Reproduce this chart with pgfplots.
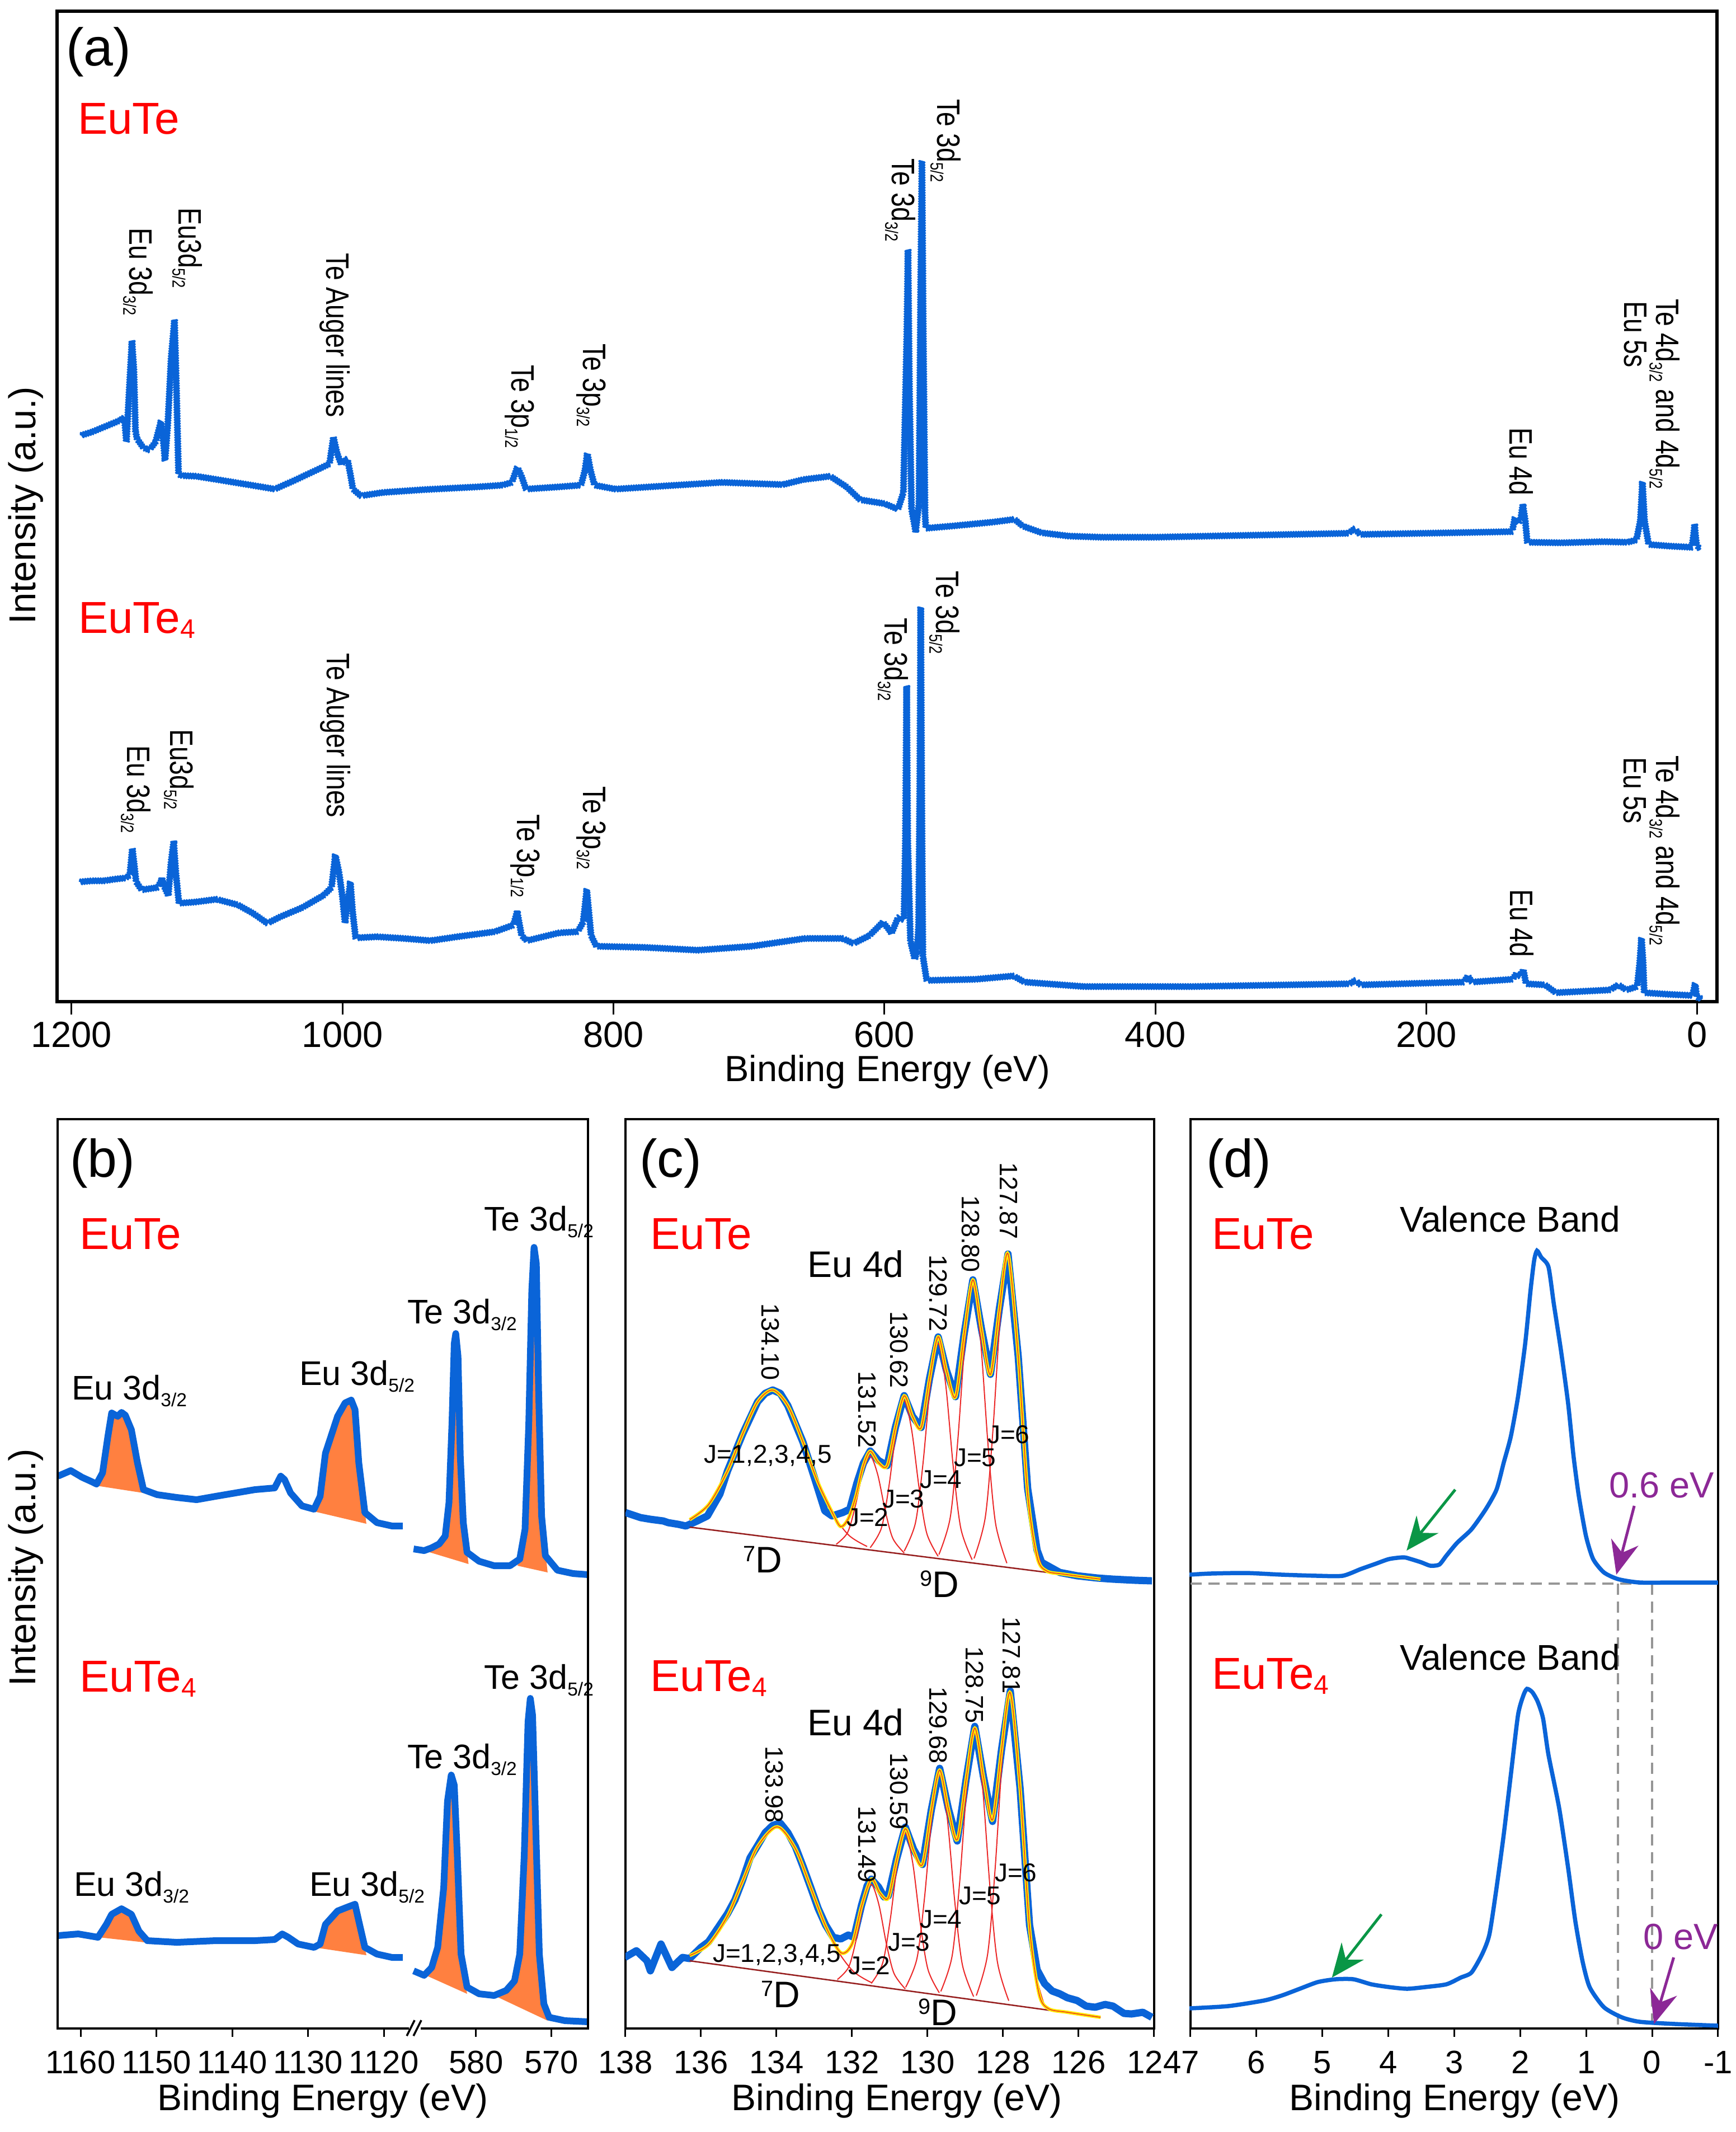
\documentclass[border=0pt]{standalone}
\usepackage{pgfplots}
\pgfplotsset{compat=1.18}
\usepackage{graphicx}
\usepackage{fontspec}
\setmainfont{Liberation Sans}
\newfontfamily\cnd[FakeStretch=0.8]{Liberation Sans}
\usetikzlibrary{arrows.meta,decorations.pathmorphing}
\newcommand\fs[1]{\fontsize{#1}{#1}\selectfont}
\newcommand\sub[1]{\raisebox{-0.2em}{\scalebox{0.55}{#1}}}
\newcommand\subf[1]{\raisebox{-0.12em}{\scalebox{0.6}{#1}}}
\newcommand\supr[1]{\raisebox{0.3em}{\scalebox{0.6}{#1}}}
\definecolor{cb}{RGB}{10,100,216}
\definecolor{cor}{RGB}{255,128,64}
\definecolor{cyel}{RGB}{255,235,0}
\definecolor{cred}{RGB}{235,40,40}
\definecolor{cbase}{RGB}{150,30,30}
\definecolor{cpur}{RGB}{140,40,150}
\definecolor{cgrn}{RGB}{10,150,70}
\definecolor{cgray}{RGB}{150,150,150}
\pgfplotsset{
  panel/.style={scale only axis, anchor=north west, height=162.5pt,
    ymin=-3625, ymax=-2000, x dir=reverse, ytick=\empty,
    xtick pos=bottom, tick align=outside, major tick length=1.5pt,
    every tick/.style={black,line width=0.3pt},
    axis line style={line width=0.45pt},
    xticklabel style={font=\fs{5.8}, anchor=base, yshift=-6.5pt}},
  noisy/.style={cb, line width=0.4pt, line join=round, decorate,
    decoration={zigzag, segment length=0.45pt, amplitude=0.45pt}},
}
\begin{document}
\begin{tikzpicture}
\path[use as bounding box] (0pt,0pt) rectangle (310.3pt,-381pt);

% ================= (a) =================
\begin{axis}[at={(10.2pt,-2pt)}, anchor=north west, scale only axis,
  width=296.7pt, height=177pt,
  xmin=-14.5, xmax=1210.7, x dir=reverse, ymin=-1790, ymax=-20,
  ytick=\empty, xtick={0,200,400,600,800,1000,1200},
  xticklabels={0,200,400,600,800,1000,1200},
  xtick pos=bottom, tick align=outside, major tick length=2.3pt,
  every tick/.style={black,line width=0.3pt},
  axis line style={line width=0.55pt},
  xticklabel style={font=\fs{6.5}, anchor=base, yshift=-5.8pt}]
\addplot[noisy] coordinates {(1193,-778)(1185,-772)(1175,-762)(1165,-752)(1161,-746)(1159.5,-790)(1157.5,-700)(1155.4,-609)(1154,-660)(1152.8,-770)(1151.7,-784)(1147,-800)(1142.6,-804)(1138,-790)(1134,-753)(1132,-795)(1131,-823)(1129,-760)(1126.5,-640)(1124,-571)(1122.5,-700)(1121,-848)(1118,-850)(1108,-851)(1090,-858)(1067.4,-867)(1050,-874)(1035,-858)(1021,-842)(1009.6,-829)(1006.7,-781)(1004,-810)(1001,-829)(996.4,-820)(994,-850)(992.3,-874)(986.5,-886)(970,-880)(940,-875)(900,-870)(882,-867)(875,-862)(871,-835)(868,-850)(864.6,-874)(840,-870)(824,-867)(821,-840)(819.3,-810)(817,-840)(814,-867)(798.6,-874)(760,-868)(720,-862)(675,-866)(660,-857)(640,-851)(628,-870)(618,-893)(600,-900)(590,-910)(586,-880)(583.5,-600)(582.6,-446)(581.5,-700)(580,-910)(577.9,-937)(577,-950)(574.5,-900)(573.2,-500)(572.3,-287)(571.3,-600)(570,-920)(569.4,-944)(550,-940)(520,-933)(504,-928)(498,-940)(484,-952)(464,-958)(440,-960)(400,-960)(300,-955)(257.7,-953)(253,-945)(249,-955)(180,-952)(136.7,-950)(134.6,-925)(132.5,-935)(130.5,-930)(128.8,-902)(127,-930)(125.5,-969)(100,-970)(70,-968)(51.6,-969)(45,-965)(42,-930)(40.5,-861)(39,-930)(35.9,-973)(20,-976)(4,-978)(2.5,-950)(2,-937)(1.2,-960)(0.4,-975)(-2.5,-982)};
\addplot[noisy] coordinates {(1193.8,-1576)(1185,-1574)(1176,-1574)(1168,-1571)(1160.2,-1569)(1157,-1564)(1155.1,-1516)(1153.5,-1550)(1152.3,-1576)(1148.3,-1590)(1142,-1588)(1136.5,-1586)(1134,-1575)(1133.3,-1569)(1131.5,-1585)(1128.6,-1600)(1126.5,-1540)(1124.6,-1504)(1123,-1560)(1120.7,-1614)(1108.8,-1612)(1093,-1607)(1077.2,-1617)(1065.4,-1633)(1055.5,-1650)(1045.6,-1638)(1029.8,-1622)(1014,-1600)(1008.1,-1586)(1005.3,-1528)(1002.5,-1560)(1000.2,-1600)(998.2,-1648)(996.5,-1620)(994.2,-1576)(992.5,-1630)(990.3,-1676)(974.5,-1674)(954.8,-1677)(935,-1681)(915.3,-1674)(887.6,-1665)(873.8,-1653)(871.1,-1629)(867.8,-1672)(863.9,-1681)(840.2,-1667)(826.4,-1665)(822.4,-1648)(819.7,-1590)(816.5,-1672)(812.6,-1691)(777,-1693)(737.5,-1698)(698,-1691)(658.5,-1677)(630.8,-1677)(622.9,-1686)(611.1,-1672)(601.2,-1648)(597,-1660)(594.8,-1668)(590,-1640)(588.8,-1638)(585.6,-1644)(584.5,-1500)(583.6,-1226)(582.8,-1500)(580.8,-1682)(577.6,-1714)(576,-1700)(574.8,-1655)(573.9,-1400)(573.2,-1085)(572.5,-1400)(571.6,-1709)(568.8,-1752)(532.7,-1750)(504.7,-1744)(496.7,-1755)(452.7,-1763)(372.6,-1763)(256.6,-1758)(252.5,-1752)(248.5,-1760)(172.5,-1755)(169.3,-1744)(166.5,-1755)(136.4,-1750)(133.3,-1739)(130.5,-1745)(128.4,-1733)(126.4,-1758)(112.4,-1760)(104.4,-1774)(64.4,-1769)(58.4,-1760)(52.4,-1769)(44.4,-1763)(42.5,-1720)(41.2,-1676)(40,-1720)(39.2,-1774)(20.4,-1777)(3.6,-1779)(1.6,-1758)(0.4,-1782)(-3.6,-1785)};
\end{axis}

% ================= (b) =================
\begin{axis}[panel, at={(10.3pt,-200pt)}, width=63.4pt, xmin=1116.24, xmax=1163.03,
  xtick={1120,1130,1140,1150,1160}, xticklabels={1120,1130,1140,1150,1160},
  axis line style={draw=none}]
\addplot[fill=cor, draw=none] coordinates {(1157.9,-2655)(1157.1,-2632)(1156.4,-2567)(1155.9,-2525)(1155.1,-2531)(1154.6,-2524)(1154.1,-2529)(1153.3,-2555)(1152.5,-2614)(1151.7,-2668)};
\addplot[fill=cor, draw=none] coordinates {(1129.5,-2700)(1128.4,-2674)(1127.7,-2597)(1126.1,-2531)(1125.1,-2507)(1124.3,-2502)(1123.8,-2519)(1123.3,-2614)(1122.3,-2723)};
\addplot[fill=cor, draw=none] coordinates {(1157.6,-3462)(1156.6,-3439)(1155.9,-3421)(1154.6,-3411)(1153.3,-3421)(1152.3,-3451)(1151.6,-3471)};
\addplot[fill=cor, draw=none] coordinates {(1129.2,-3480)(1128.4,-3474)(1127.7,-3439)(1126.1,-3415)(1124.6,-3407)(1123.8,-3403)(1123.3,-3433)(1122.3,-3494)};
\addplot[cb, line width=1.2pt, line join=round] coordinates {(1163.0,-2638)(1161.3,-2628)(1159.8,-2640)(1158.5,-2648)(1157.9,-2652)(1157.1,-2632)(1156.4,-2567)(1155.9,-2525)(1155.1,-2531)(1154.6,-2524)(1154.1,-2529)(1153.3,-2555)(1152.5,-2614)(1151.7,-2662)(1149.9,-2671)(1147.3,-2676)(1144.7,-2680)(1142.2,-2674)(1139.6,-2668)(1137.0,-2662)(1134.4,-2659)(1133.6,-2638)(1133.1,-2644)(1132.3,-2668)(1130.8,-2691)(1129.2,-2697)(1128.4,-2674)(1127.7,-2597)(1126.1,-2531)(1125.1,-2507)(1124.3,-2502)(1123.8,-2519)(1123.3,-2614)(1122.5,-2703)(1120.9,-2721)(1118.9,-2727)(1117.5,-2727)};
\addplot[cb, line width=1.2pt, line join=round] coordinates {(1163.0,-3459)(1160.3,-3456)(1157.7,-3462)(1156.6,-3439)(1155.9,-3421)(1154.6,-3411)(1153.3,-3421)(1152.3,-3451)(1151.2,-3468)(1147.3,-3471)(1142.2,-3468)(1137.0,-3468)(1134.4,-3466)(1133.4,-3456)(1132.6,-3462)(1131.3,-3474)(1129.2,-3480)(1128.4,-3474)(1127.7,-3439)(1126.1,-3415)(1124.6,-3407)(1123.8,-3403)(1123.3,-3433)(1122.5,-3480)(1120.9,-3492)(1118.9,-3498)(1117.5,-3498)};
\end{axis}
\begin{axis}[panel, at={(73.7pt,-200pt)}, width=31.4pt, xmin=565.14, xmax=588.47,
  xtick={570,580}, xticklabels={570,580}, axis line style={draw=none}]
\addplot[fill=cor, draw=none] coordinates {(586.9,-2771)(585.9,-2766)(584.9,-2759)(584.1,-2745)(583.6,-2685)(583.2,-2543)(582.9,-2401)(582.7,-2383)(582.4,-2424)(582.1,-2602)(581.7,-2721)(581.0,-2795)};
\addplot[fill=cor, draw=none] coordinates {(574.5,-2798)(574.2,-2786)(573.5,-2733)(573.0,-2543)(572.6,-2306)(572.3,-2229)(572.0,-2258)(571.7,-2484)(571.3,-2709)(570.5,-2810)};
\addplot[fill=cor, draw=none] coordinates {(587.0,-3528)(585.9,-3516)(585.1,-3480)(584.3,-3373)(583.8,-3219)(583.3,-3172)(582.9,-3190)(582.5,-3314)(582.0,-3492)(581.2,-3563)};
\addplot[fill=cor, draw=none] coordinates {(577.6,-3566)(576.0,-3557)(574.9,-3540)(574.2,-3492)(573.6,-3314)(573.1,-3077)(572.8,-3035)(572.5,-3065)(572.1,-3255)(571.6,-3492)(570.5,-3611)};
\addplot[cb, line width=1.2pt, line join=round] coordinates {(588.3,-2768)(586.9,-2771)(585.9,-2766)(584.9,-2759)(584.1,-2745)(583.6,-2685)(583.2,-2543)(582.9,-2401)(582.7,-2383)(582.4,-2424)(582.1,-2602)(581.7,-2721)(581.2,-2774)(579.6,-2790)(577.6,-2798)(575.5,-2798)(574.2,-2786)(573.5,-2733)(573.0,-2543)(572.6,-2306)(572.3,-2229)(572.0,-2258)(571.7,-2484)(571.3,-2709)(570.8,-2780)(569.2,-2806)(567.1,-2812)(565.1,-2814)};
\addplot[cb, line width=1.2pt, line join=round] coordinates {(588.3,-3522)(586.9,-3530)(585.9,-3516)(585.1,-3480)(584.3,-3373)(583.8,-3219)(583.3,-3172)(582.9,-3190)(582.5,-3314)(582.0,-3492)(581.2,-3551)(579.6,-3563)(577.6,-3566)(576.0,-3557)(574.9,-3540)(574.2,-3492)(573.6,-3314)(573.1,-3077)(572.8,-3035)(572.5,-3065)(572.1,-3255)(571.6,-3492)(571.0,-3581)(570.3,-3605)(568.2,-3611)(565.1,-3613)};
\end{axis}
\begin{axis}[at={(10.3pt,-200pt)}, anchor=north west, scale only axis, width=94.8pt, height=162.5pt,
  xmin=0, xmax=1, ymin=0, ymax=1, xtick=\empty, ytick=\empty, axis line style={line width=0.45pt}]
\addplot[draw=none] coordinates {(0.5,0.5)};
\end{axis}

% ================= (c) =================
\begin{axis}[panel, at={(111.8pt,-200pt)}, width=94.5pt, xmin=124, xmax=138,
  xtick={124,126,128,130,132,134,136,138}, xticklabels={124,126,128,130,132,134,136,138}]
\addplot[cb, line width=1.3pt, line join=round] coordinates {(138.0,-2703)(137.6,-2712)(137.34,-2715)(137.0,-2718)(136.87,-2721)(136.6,-2724)(136.4,-2727)(136.1,-2718)(135.83,-2709)(135.5,-2670)(135.3,-2629)(134.9,-2563)(134.5,-2505)(134.3,-2490)(134.1,-2484)(133.9,-2490)(133.7,-2512)(133.3,-2577)(133.0,-2640)(132.72,-2700)(132.53,-2709)(132.25,-2703)(132.06,-2697)(131.87,-2650)(131.7,-2615)(131.52,-2593)(131.3,-2610)(131.07,-2619)(130.85,-2550)(130.62,-2494)(130.4,-2531)(130.17,-2551)(129.95,-2464)(129.72,-2389)(129.5,-2449)(129.26,-2496)(129.03,-2383)(128.8,-2287)(128.57,-2376)(128.335,-2456)(128.1,-2339)(127.87,-2241)(127.6,-2424)(127.35,-2660)(127.1,-2770)(126.98,-2792)(126.5,-2810)(126.04,-2816)(125.5,-2820)(125.09,-2822)(124.5,-2824)(124.06,-2825)};
\addplot[cred, line width=0.2pt, smooth] coordinates {(136.3,-2715.7)(136.1,-2708.4)(135.6,-2669.3)(135.1,-2597)(134.6,-2517.3)(134.1,-2483.8)(133.6,-2525.9)(133.1,-2614.1)(132.6,-2694.9)(132.1,-2742.6)(131.6,-2763.6)};
\addplot[cred, line width=0.2pt, smooth] coordinates {(132.42,-2759.7)(132.12,-2738.9)(131.92,-2693.3)(131.72,-2631.7)(131.52,-2601.9)(131.32,-2635.2)(131.12,-2700.2)(130.92,-2749.2)(130.62,-2775.1)};
\addplot[cred, line width=0.2pt, smooth] coordinates {(131.52,-2765.8)(131.22,-2730.1)(131.02,-2654.5)(130.82,-2552.5)(130.62,-2502.6)(130.42,-2556)(130.22,-2661.4)(130.02,-2740.4)(129.72,-2781.2)};
\addplot[cred, line width=0.2pt, smooth] coordinates {(130.62,-2771.9)(130.32,-2721)(130.12,-2614.4)(129.92,-2471)(129.72,-2400.3)(129.52,-2474.4)(129.32,-2621.2)(129.12,-2731.2)(128.82,-2787.3)};
\addplot[cred, line width=0.2pt, smooth] coordinates {(129.7,-2778.1)(129.4,-2711.9)(129.2,-2574.4)(129,-2389.5)(128.8,-2298.1)(128.6,-2392.9)(128.4,-2581.2)(128.2,-2722.2)(127.9,-2793.5)};
\addplot[cred, line width=0.2pt, smooth] coordinates {(128.77,-2785.1)(128.47,-2710.6)(128.27,-2556.3)(128.07,-2348.7)(127.87,-2246.1)(127.67,-2352.1)(127.47,-2563.1)(127.27,-2720.9)(126.97,-2800.6)};
\addplot[cbase, line width=0.25pt] coordinates {(136.3,-2729)(125.42,-2822)};
\addplot[cyel, line width=0.6pt, smooth] coordinates {(136.3,-2715.7)(135.8,-2688.9)(135.3,-2629)(134.9,-2563)(134.5,-2505)(134.1,-2484)(133.7,-2512)(133.3,-2576.7)(132.9,-2649.5)(132.5,-2706)(132.3,-2728)(132.1,-2714)(131.9,-2674)(131.7,-2618.8)(131.52,-2593.4)(131.3,-2614)(131.07,-2619.2)(130.85,-2550.5)(130.62,-2494.3)(130.4,-2531)(130.17,-2551.3)(129.95,-2464.4)(129.72,-2388.8)(129.5,-2449.4)(129.26,-2496.5)(129.03,-2383.1)(128.8,-2287.2)(128.57,-2376.1)(128.335,-2456.2)(128.1,-2339.3)(127.87,-2240.6)(127.6,-2423.6)(127.35,-2669.6)(127.1,-2782.3)(126.85,-2807.3)(126.4,-2813)(125.42,-2822)};
\addplot[cred!80!orange, line width=0.15pt, smooth] coordinates {(136.3,-2715.7)(135.8,-2688.9)(135.3,-2629)(134.9,-2563)(134.5,-2505)(134.1,-2484)(133.7,-2512)(133.3,-2576.7)(132.9,-2649.5)(132.5,-2706)(132.3,-2728)(132.1,-2714)(131.9,-2674)(131.7,-2618.8)(131.52,-2593.4)(131.3,-2614)(131.07,-2619.2)(130.85,-2550.5)(130.62,-2494.3)(130.4,-2531)(130.17,-2551.3)(129.95,-2464.4)(129.72,-2388.8)(129.5,-2449.4)(129.26,-2496.5)(129.03,-2383.1)(128.8,-2287.2)(128.57,-2376.1)(128.335,-2456.2)(128.1,-2339.3)(127.87,-2240.6)(127.6,-2423.6)(127.35,-2669.6)(127.1,-2782.3)(126.85,-2807.3)(126.4,-2813)(125.42,-2822)};
\addplot[cb, line width=1.3pt, line join=round] coordinates {(138.02,-3498)(137.71,-3486)(137.43,-3504)(137.34,-3522)(137.06,-3474)(136.77,-3516)(136.49,-3498)(136.3,-3500)(136.0,-3480)(135.8,-3470)(135.5,-3440)(135.3,-3420)(135.1,-3395)(134.9,-3360)(134.7,-3320)(134.5,-3298)(134.3,-3275)(134.1,-3262)(133.9,-3258)(133.7,-3275)(133.5,-3300)(133.3,-3335)(133.1,-3372)(132.9,-3410)(132.7,-3440)(132.5,-3462)(132.3,-3465)(132.1,-3458)(131.95,-3462)(131.75,-3405)(131.6,-3370)(131.49,-3358)(131.3,-3372)(131.15,-3390)(131.04,-3388)(130.82,-3322)(130.59,-3265)(130.37,-3305)(130.135,-3332)(129.9,-3234)(129.68,-3160)(129.45,-3232)(129.215,-3290)(128.98,-3180)(128.75,-3085)(128.52,-3175)(128.28,-3255)(128.04,-3126)(127.81,-3022)(127.55,-3196)(127.3,-3440)(127.1,-3520)(126.9,-3545)(126.7,-3558)(126.5,-3563)(126.3,-3570)(126.04,-3575)(125.8,-3585)(125.56,-3587)(125.3,-3582)(125.09,-3585)(124.8,-3598)(124.6,-3599)(124.3,-3596)(124.06,-3605)};
\addplot[cred, line width=0.2pt, smooth] coordinates {(136.3,-3494.6)(136,-3485.8)(135.48,-3446.6)(134.98,-3375.5)(134.48,-3297.2)(133.98,-3264.5)(133.48,-3306.5)(132.98,-3394.1)(132.48,-3474.4)(131.98,-3522)(131.48,-3543.2)};
\addplot[cred, line width=0.2pt, smooth] coordinates {(132.39,-3537.6)(132.09,-3515.3)(131.89,-3466.2)(131.69,-3399.8)(131.49,-3367.6)(131.29,-3403.5)(131.09,-3473.6)(130.89,-3526.4)(130.59,-3554.3)};
\addplot[cred, line width=0.2pt, smooth] coordinates {(131.49,-3544.4)(131.19,-3508.2)(130.99,-3431.1)(130.79,-3326.9)(130.59,-3276)(130.39,-3330.6)(130.19,-3438.5)(129.99,-3519.4)(129.69,-3561.1)};
\addplot[cred, line width=0.2pt, smooth] coordinates {(130.58,-3551.3)(130.28,-3499.5)(130.08,-3390.7)(129.88,-3244.5)(129.68,-3172.4)(129.48,-3248.2)(129.28,-3398.1)(129.08,-3510.6)(128.78,-3568)};
\addplot[cred, line width=0.2pt, smooth] coordinates {(129.65,-3558.7)(129.35,-3495.3)(129.15,-3363.3)(128.95,-3185.7)(128.75,-3098.1)(128.55,-3189.4)(128.35,-3370.7)(128.15,-3506.4)(127.85,-3575.4)};
\addplot[cred, line width=0.2pt, smooth] coordinates {(128.71,-3566.2)(128.41,-3492.2)(128.21,-3338.5)(128.01,-3131.9)(127.81,-3029.8)(127.61,-3135.6)(127.41,-3345.9)(127.21,-3503.4)(126.91,-3582.9)};
\addplot[cbase, line width=0.25pt] coordinates {(136.3,-3504)(125.42,-3605)};
\addplot[cyel, line width=0.6pt, smooth] coordinates {(136.3,-3494.6)(135.8,-3474.8)(135.3,-3424.3)(134.9,-3362.1)(134.5,-3299.8)(133.98,-3264.5)(133.5,-3303.7)(133.1,-3371.9)(132.7,-3442)(132.3,-3489.4)(132.0,-3473.9)(131.75,-3406.8)(131.49,-3357.9)(131.27,-3382.3)(131.04,-3391.7)(130.82,-3324.1)(130.59,-3268)(130.37,-3307.7)(130.135,-3331.6)(129.9,-3234.4)(129.68,-3163.3)(129.45,-3232.2)(129.215,-3287.6)(128.98,-3179.9)(128.75,-3088.1)(128.52,-3174.8)(128.28,-3252.2)(128.04,-3126.4)(127.81,-3025)(127.55,-3196.4)(127.3,-3444.8)(127.05,-3562.4)(126.8,-3589.4)(126.3,-3596)(125.42,-3605)};
\addplot[cred!80!orange, line width=0.15pt, smooth] coordinates {(136.3,-3494.6)(135.8,-3474.8)(135.3,-3424.3)(134.9,-3362.1)(134.5,-3299.8)(133.98,-3264.5)(133.5,-3303.7)(133.1,-3371.9)(132.7,-3442)(132.3,-3489.4)(132.0,-3473.9)(131.75,-3406.8)(131.49,-3357.9)(131.27,-3382.3)(131.04,-3391.7)(130.82,-3324.1)(130.59,-3268)(130.37,-3307.7)(130.135,-3331.6)(129.9,-3234.4)(129.68,-3163.3)(129.45,-3232.2)(129.215,-3287.6)(128.98,-3179.9)(128.75,-3088.1)(128.52,-3174.8)(128.28,-3252.2)(128.04,-3126.4)(127.81,-3025)(127.55,-3196.4)(127.3,-3444.8)(127.05,-3562.4)(126.8,-3589.4)(126.3,-3596)(125.42,-3605)};
\end{axis}

% ================= (d) =================
\begin{axis}[panel, at={(212.8pt,-200pt)}, width=94.3pt, xmin=-1, xmax=7,
  xtick={-1,0,1,2,3,4,5,6,7}, xticklabels={-1,0,1,2,3,4,5,6,7}, clip=false]
\draw[cgray, line width=0.35pt, dash pattern=on 2pt off 1.2pt] (axis cs:7,-2830) -- (axis cs:-1,-2830);
\draw[cgray, line width=0.35pt, dash pattern=on 2pt off 1.2pt] (axis cs:0.52,-2830) -- (axis cs:0.52,-3625);
\draw[cgray, line width=0.35pt, dash pattern=on 2pt off 1.2pt] (axis cs:0,-2830) -- (axis cs:0,-3625);
\addplot[cb, line width=0.75pt, smooth, tension=0.4] coordinates {(7.015,-2814)(6.70,-2812)(6.158,-2811)(5.615,-2814)(5.07,-2816)(4.693,-2816)(4.42,-2804)(4.204,-2795)(3.987,-2786)(3.77,-2783)(3.662,-2786)(3.499,-2792)(3.363,-2798)(3.228,-2796)(3.12,-2780)(2.957,-2757)(2.74,-2733)(2.523,-2697)(2.36,-2662)(2.251,-2614)(2.143,-2567)(2.034,-2496)(1.925,-2401)(1.844,-2306)(1.79,-2253)(1.746,-2235)(1.681,-2247)(1.572,-2264)(1.491,-2330)(1.383,-2413)(1.274,-2508)(1.192,-2602)(1.111,-2674)(1.003,-2745)(0.895,-2786)(0.731,-2810)(0.515,-2822)(0.189,-2828)(-0.354,-2828)(-1.0,-2828)};
\addplot[cb, line width=0.75pt, smooth, tension=0.4] coordinates {(7.015,-3589)(6.43,-3585)(5.886,-3575)(5.615,-3566)(5.344,-3554)(5.07,-3542)(4.80,-3537)(4.53,-3537)(4.259,-3546)(3.987,-3551)(3.716,-3554)(3.444,-3551)(3.12,-3546)(2.902,-3534)(2.74,-3525)(2.577,-3492)(2.468,-3457)(2.36,-3374)(2.251,-3279)(2.143,-3172)(2.034,-3065)(1.953,-3030)(1.898,-3018)(1.817,-3024)(1.735,-3041)(1.654,-3071)(1.572,-3136)(1.41,-3231)(1.274,-3338)(1.165,-3433)(1.057,-3504)(0.948,-3551)(0.731,-3587)(0.46,-3605)(0.189,-3613)(-0.354,-3617)(-1.0,-3620)};
\draw[cgrn, line width=0.5pt, -{Stealth[length=6pt,width=5pt]}] (axis cs:2.986,-2662) -- (axis cs:3.724,-2771);
\draw[cgrn, line width=0.5pt, -{Stealth[length=6pt,width=5pt]}] (axis cs:4.105,-3421) -- (axis cs:4.856,-3534);
\draw[cpur, line width=0.5pt, -{Stealth[length=6pt,width=5pt]}] (axis cs:0.271,-2691) -- (axis cs:0.543,-2814);
\draw[cpur, line width=0.5pt, -{Stealth[length=6pt,width=5pt]}] (axis cs:-0.327,-3498) -- (axis cs:-0.028,-3617);
\end{axis}

% ================= texts =================
\begin{scope}[x=0.1pt,y=-0.1pt]
\node[anchor=base west, inner sep=0, font=\fs{9.5}] at (116,117) {(a)};
\node[anchor=base west, inner sep=0, font=\fs{8}, text=red] at (137,239) {EuTe};
\node[anchor=base west, inner sep=0, font=\fs{8}, text=red] at (138,1131) {EuTe\subf{4}};
\begin{scope}[every node/.style={rotate=-90, anchor=west, inner sep=0, font={\cnd\fs{5.8}}}]
\node at (247,405) {Eu 3d\sub{3/2}};
\node at (335,369) {Eu3d\sub{5/2}};
\node at (598,450) {Te Auger lines};
\node at (929,650) {Te 3p\sub{1/2}};
\node at (1057,612) {Te 3p\sub{3/2}};
\node at (1609,281) {Te 3d\sub{3/2}};
\node at (1690,175) {Te 3d\sub{5/2}};
\node at (2719,762) {Eu 4d};
\node at (2975,532) {Te 4d\sub{3/2} and 4d\sub{5/2}};
\node at (2923,536) {Eu 5s};
\node at (243,1330) {Eu 3d\sub{3/2}};
\node at (320,1301) {Eu3d\sub{5/2}};
\node at (599,1165) {Te Auger lines};
\node at (939,1453) {Te 3p\sub{1/2}};
\node at (1057,1403) {Te 3p\sub{3/2}};
\node at (1596,1102) {Te 3d\sub{3/2}};
\node at (1688,1018) {Te 3d\sub{5/2}};
\node at (2720,1587) {Eu 4d};
\node at (2975,1348) {Te 4d\sub{3/2} and 4d\sub{5/2}};
\node at (2922,1351) {Eu 5s};
\end{scope}
\node[rotate=90, font=\fs{6.7}] at (46,903) {Intensity (a.u.)};
\node[anchor=base, font=\fs{6.5}] at (1586,1932) {Binding Energy (eV)};

\fill[white] (731,3618) rectangle (752,3632);
\draw[black, line width=0.35pt] (727,3638) -- (741,3610);
\draw[black, line width=0.35pt] (739,3638) -- (753,3610);
\node[anchor=base west, inner sep=0, font=\fs{9.5}] at (123,2103) {(b)};
\node[anchor=base west, inner sep=0, font=\fs{8}, text=red] at (140,2232) {EuTe};
\node[anchor=base west, inner sep=0, font=\fs{8}, text=red] at (140,3023) {EuTe\subf{4}};
\begin{scope}[every node/.style={anchor=base west, inner sep=0, font=\fs{6.1}}]
\node at (126,2501) {Eu 3d\sub{3/2}};
\node at (533,2475) {Eu 3d\sub{5/2}};
\node at (726,2365) {Te 3d\sub{3/2}};
\node at (863,2199) {Te 3d\sub{5/2}};
\node at (130,3388) {Eu 3d\sub{3/2}};
\node at (551,3388) {Eu 3d\sub{5/2}};
\node at (726,3160) {Te 3d\sub{3/2}};
\node at (863,3018) {Te 3d\sub{5/2}};
\end{scope}
\node[rotate=90, font=\fs{6.7}] at (46,2801) {Intensity (a.u.)};
\node[anchor=base, font=\fs{6.6}] at (577,3771) {Binding Energy (eV)};

\node[anchor=base west, inner sep=0, font=\fs{9.5}] at (1141,2103) {(c)};
\node[anchor=base west, inner sep=0, font=\fs{8}, text=red] at (1160,2232) {EuTe};
\node[anchor=base west, inner sep=0, font=\fs{8}, text=red] at (1160,3022) {EuTe\subf{4}};
\node[anchor=base west, inner sep=0, font=\fs{6.6}] at (1441,2282) {Eu 4d};
\node[anchor=base west, inner sep=0, font=\fs{6.6}] at (1441,3101) {Eu 4d};
\begin{scope}[every node/.style={rotate=-90, anchor=west, inner sep=0, font=\fs{4.5}}]
\node at (1377,2327) {134.10};
\node at (1550,2448) {131.52};
\node at (1607,2341) {130.62};
\node at (1677,2240) {129.72};
\node at (1735,2134) {128.80};
\node at (1803,2075) {127.87};
\node at (1384,3118) {133.98};
\node at (1550,3225) {131.49};
\node at (1607,3130) {130.59};
\node at (1677,3012) {129.68};
\node at (1742,2940) {128.75};
\node at (1808,2887) {127.81};
\end{scope}
\begin{scope}[every node/.style={anchor=base west, inner sep=0, font=\fs{4.6}}]
\node at (1256,2614) {J=1,2,3,4,5};
\node at (1511,2727) {J=2};
\node at (1575,2694) {J=3};
\node at (1642,2659) {J=4};
\node at (1703,2620) {J=5};
\node at (1763,2579) {J=6};
\node at (1272,3506) {J=1,2,3,4,5};
\node at (1514,3528) {J=2};
\node at (1585,3486) {J=3};
\node at (1642,3445) {J=4};
\node at (1712,3403) {J=5};
\node at (1776,3362) {J=6};
\end{scope}
\begin{scope}[every node/.style={anchor=base west, inner sep=0, font=\fs{6.6}}]
\node at (1326,2810) {\supr{7}D};
\node at (1642,2854) {\supr{9}D};
\node at (1358,3587) {\supr{7}D};
\node at (1639,3619) {\supr{9}D};
\end{scope}
\node[anchor=base, font=\fs{6.6}] at (1603,3771) {Binding Energy (eV)};

\node[anchor=base west, inner sep=0, font=\fs{9.5}] at (2154,2103) {(d)};
\node[anchor=base west, inner sep=0, font=\fs{8}, text=red] at (2164,2232) {EuTe};
\node[anchor=base west, inner sep=0, font=\fs{8}, text=red] at (2164,3018) {EuTe\subf{4}};
\node[anchor=base west, inner sep=0, font=\fs{6.4}] at (2500,2201) {Valence Band};
\node[anchor=base west, inner sep=0, font=\fs{6.4}] at (2500,2984) {Valence Band};
\node[anchor=base west, inner sep=0, font=\fs{6.5}, text=cpur] at (2874,2676) {0.6 eV};
\node[anchor=base west, inner sep=0, font=\fs{6.5}, text=cpur] at (2935,3483) {0 eV};
\node[anchor=base, font=\fs{6.6}] at (2600,3771) {Binding Energy (eV)};
\end{scope}
\end{tikzpicture}
\end{document}
